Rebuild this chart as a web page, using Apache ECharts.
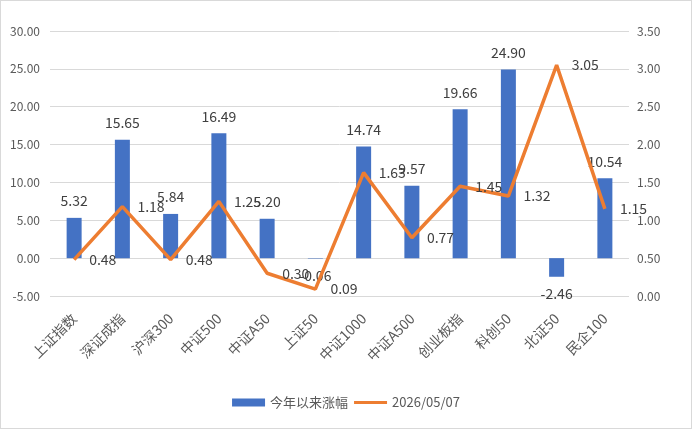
<!DOCTYPE html>
<html>
<head>
<meta charset="utf-8">
<script src="https://cdn.jsdelivr.net/npm/echarts@6/dist/echarts.min.js"></script>
<style>
    html, body {margin: 0; padding: 0; background: #fff;}
    #main_box {width: 692px; height: 429px; box-sizing: border-box; border: 1px solid #d9d9d9;}
</style>
</head>
<body>
<div id="main_box"></div>
<script>
let index_names = ['上证指数','深证成指','沪深300','中证500','中证A50','上证50','中证1000','中证A500','创业板指','科创50','北证50','民企100'];
let ytd_change = [5.32, 15.65, 5.84, 16.49, 5.20, -0.06, 14.74, 9.57, 19.66, 24.90, -2.46, 10.54];
let day_change = [0.48, 1.18, 0.48, 1.25, 0.30, 0.09, 1.63, 0.77, 1.45, 1.32, 3.05, 1.15];
let series_names = ['今年以来涨幅', '2026/05/07'];

function data_chart(){
    let font_cn = '"Noto Sans CJK SC", "Noto Sans", sans-serif';
    let bar_data = ytd_change.map(function (v) {
        return {value: v, label: {position: v < 0 ? 'bottom' : 'top'}};
    });

    let main_chart = echarts.init(document.getElementById('main_box'));
    let option = {
        color: ['#4472c4', '#ed7d31'],
        animation: false,
        textStyle: {fontFamily: font_cn},
        grid: {
            left: 49, right: 62,
            top: 30, bottom: 132,
            containLabel: false
        },
        legend: {
            data: [
                {name: series_names[0], icon: 'rect'},
                {name: series_names[1], icon: 'path://M0,0H33V3H0Z'}
            ],
            bottom: 14,
            left: 'center',
            itemWidth: 33, itemHeight: 8, itemGap: 6,
            textStyle: {color: '#595959', fontSize: 13, fontFamily: font_cn}
        },
        xAxis: [
            {
                type: 'category',
                data: index_names,
                axisLabel: {color: '#595959', fontSize: 14, rotate: 45, margin: 20, interval: 0},
                axisLine: {show: false, onZero: false},
                axisTick: {show: false}
            }
        ],
        yAxis: [
            {
                type: 'value',
                min: -5, max: 30, interval: 5,
                axisLabel: {color: '#595959', fontSize: 12, margin: 10,
                    formatter: function (v) { return v.toFixed(2); }},
                axisLine: {show: false},
                axisTick: {show: false},
                splitLine: {lineStyle: {color: '#d9d9d9', width: 1}}
            },
            {
                type: 'value',
                min: 0, max: 3.5, interval: 0.5,
                axisLabel: {color: '#595959', fontSize: 12, margin: 8,
                    formatter: function (v) { return v.toFixed(2); }},
                axisLine: {show: false},
                axisTick: {show: false},
                splitLine: {show: false}
            }
        ],
        series: [
            {
                name: series_names[0],
                type: 'bar',
                yAxisIndex: 0,
                barWidth: 15,
                data: bar_data,
                label: {
                    show: true, distance: 10,
                    color: '#404040', fontSize: 14,
                    formatter: function (p) { return p.value.toFixed(2); }
                }
            },
            {
                name: series_names[1],
                type: 'line',
                yAxisIndex: 1,
                symbol: 'circle',
                symbolSize: 0.01,
                showSymbol: true,
                data: day_change,
                lineStyle: {width: 3.5},
                label: {
                    show: true, position: 'right', distance: 15,
                    color: '#404040', fontSize: 14,
                    formatter: function (p) { return p.value.toFixed(2); }
                },
                z: 3
            }
        ]
    };
    main_chart.setOption(option);
    window.onresize = main_chart.resize;
}

data_chart();
</script>
</body>
</html>
